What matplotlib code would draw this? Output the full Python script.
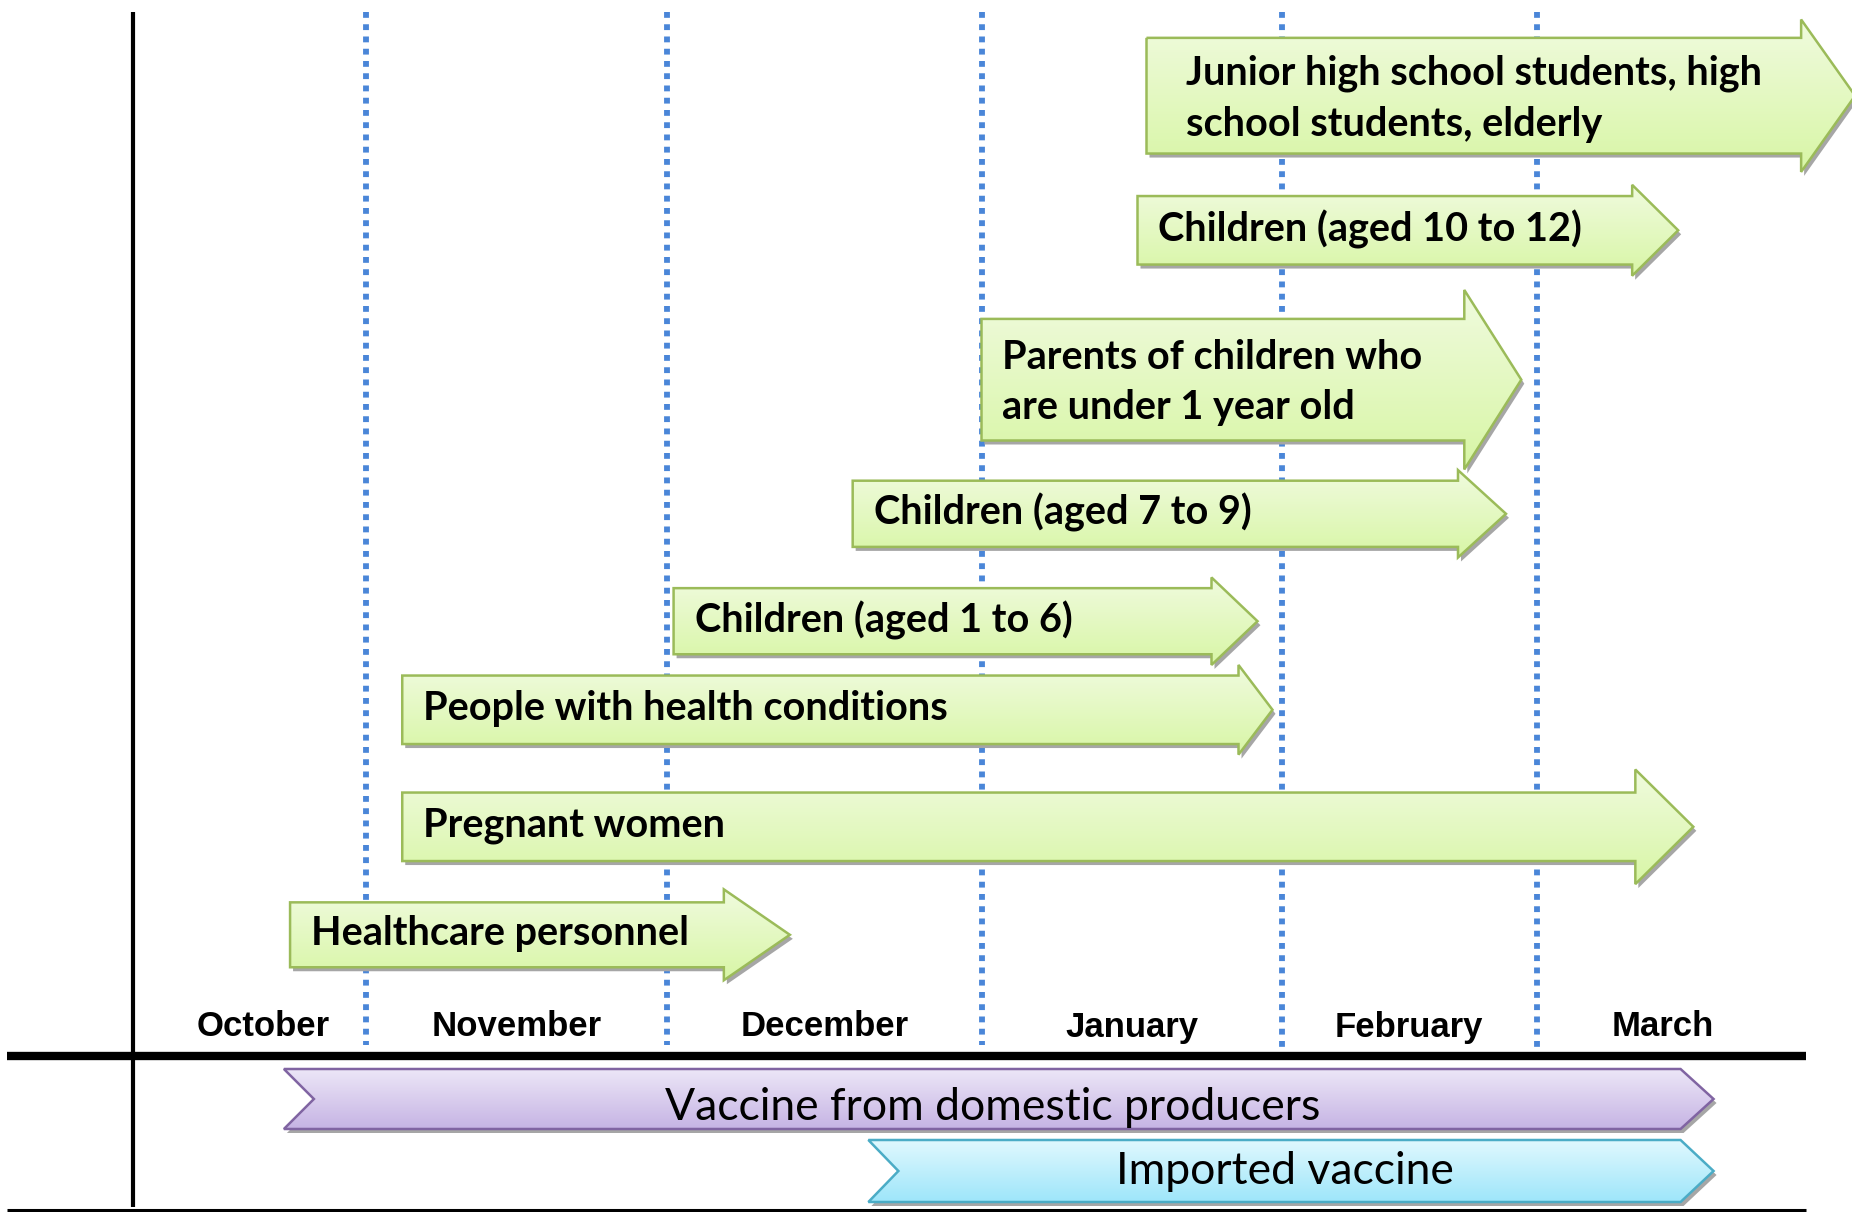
import matplotlib.pyplot as plt
from matplotlib.patches import Polygon
import numpy as np

# Months along the time line
months = ['October', 'November', 'December', 'January', 'February', 'March']

# Priority groups: start / end in months (0 = start of October)
groups = ['Junior high school students, high\nschool students, elderly',
          'Children (aged 10 to 12)',
          'Parents of children who\nare under 1 year old',
          'Children (aged 7 to 9)',
          'Children (aged 1 to 6)',
          'People with health conditions',
          'Pregnant women',
          'Healthcare personnel']
group_start = [3.55, 3.52, 3.0, 2.59, 2.02, 1.12, 1.12, 0.63]
group_end = [6.26, 5.56, 4.94, 4.88, 3.92, 3.97, 5.62, 2.39]

# Vaccine supply
supply = ['Vaccine from domestic producers', 'Imported vaccine']
supply_start = [0.60, 2.64]
supply_end = [5.70, 5.70]

# ---- layout (pixels of a 1852x1212 canvas) ----
W, H = 1852, 1212
edges = np.array([160.6, 366.1, 667.3, 981.5, 1281.5, 1536.6, 1789.4])
row_y = [95.7, 230.3, 379.7, 513.8, 621.2, 709.8, 826.8, 934.8]
body_h = [115.7, 68.5, 121.6, 66.2, 66.1, 68.5, 68.5, 64.9]
head_h = [152.4, 90.9, 179.5, 87.4, 87.5, 89.7, 114.6, 90.9]
head_len = [54, 46, 57, 48, 46, 34, 58, 66]
text_pad = [40, 21, 21, 21, 21, 21, 21, 21]


def mx(m):
    m = np.asarray(m, dtype=float)
    i = np.clip(np.floor(m), 0, 5).astype(int)
    return edges[i] + (m - i) * (edges[i + 1] - edges[i])


fig = plt.figure(figsize=(W / 100, H / 100), dpi=100)
ax = fig.add_axes([0, 0, 1, 1])
ax.axis('off')


def fancy(pts, top_col, bot_col, edge, z):
    pts = np.array(pts)
    sh = Polygon(pts + [3, 4], closed=True, fc='#a6a6a6', ec='none', zorder=z)
    ax.add_patch(sh)
    poly = Polygon(pts, closed=True, fc='none', ec=edge, lw=1.8, zorder=z + 2)
    ax.add_patch(poly)
    clip = Polygon(pts, closed=True, fc='none', ec='none', transform=ax.transData)
    ax.add_patch(clip)
    c0 = np.array(top_col) / 255
    c1 = np.array(bot_col) / 255
    t = np.linspace(0, 1, 64)[:, None, None]
    grad = c0 * (1 - t) + c1 * t
    grad = np.repeat(grad, 2, axis=1)
    y0, y1 = pts[:, 1].min(), pts[:, 1].max()
    x0, x1 = pts[:, 0].min(), pts[:, 0].max()
    im = ax.imshow(grad, extent=(x0, x1, y1, y0), origin='upper', aspect='auto',
                   zorder=z + 1, interpolation='bilinear')
    im.set_clip_path(clip)


# dotted month boundaries
for k in range(1, 6):
    x = mx(k)
    ybot = 1045 if k < 4 else 1058
    ax.plot([x, x], [12, ybot], color='#4a86d8', lw=4.2,
            linestyle=(0, (1, 1.1)), solid_capstyle='butt', zorder=1)

# axis lines
ax.plot([133, 133], [12, 1207], color='black', lw=3, zorder=5, solid_capstyle='butt')
ax.plot([7, 1806], [1056, 1056], color='black', lw=6, zorder=5, solid_capstyle='butt')
ax.plot([7, 1806], [1210, 1210], color='black', lw=2.2, zorder=5, solid_capstyle='butt')

# month labels
for k, m in enumerate(months):
    ax.text(mx(k + 0.5), 1027, m, ha='center', va='center', fontsize=25,
            fontweight='bold', family='Liberation Sans', zorder=6)

# group arrows
for i, lab in enumerate(groups):
    x0 = float(mx(group_start[i]))
    xt = float(mx(group_end[i]))
    xh = xt - head_len[i]
    yc, bh, hh = row_y[i], body_h[i] / 2, head_h[i] / 2
    pts = [(x0, yc - bh), (xh, yc - bh), (xh, yc - hh), (xt, yc),
           (xh, yc + hh), (xh, yc + bh), (x0, yc + bh)]
    fancy(pts, (240, 251, 222), (216, 246, 166), '#9bbb59', 10)
    dy = 3 if '\n' in lab else -1
    ax.text(x0 + text_pad[i], yc + dy, lab, ha='left', va='center', fontsize=28.5,
            fontweight='bold', family='Lato', linespacing=1.45, zorder=20)

# supply chevrons
sup_y = [1099, 1171]
sup_h = [60, 62]
sup_dy = [8, 1]
sup_cols = [((236, 230, 247), (198, 180, 228), '#8064a2'),
            ((224, 248, 254), (158, 230, 250), '#4bacc6')]
for i, lab in enumerate(supply):
    x0 = float(mx(supply_start[i]))
    xt = float(mx(supply_end[i]))
    yc, h = sup_y[i], sup_h[i] / 2
    pts = [(x0, yc - h), (xt - 33, yc - h), (xt, yc), (xt - 33, yc + h),
           (x0, yc + h), (x0 + 30, yc)]
    top, bot, ec = sup_cols[i]
    fancy(pts, top, bot, ec, 10)
    ax.text((x0 + xt) / 2 - 6, yc + sup_dy[i], lab, ha='center', va='center',
            fontsize=32, family='Lato', zorder=20)

ax.set_xlim(0, W)
ax.set_ylim(H, 0)
fig.savefig('out.png', dpi=100)
